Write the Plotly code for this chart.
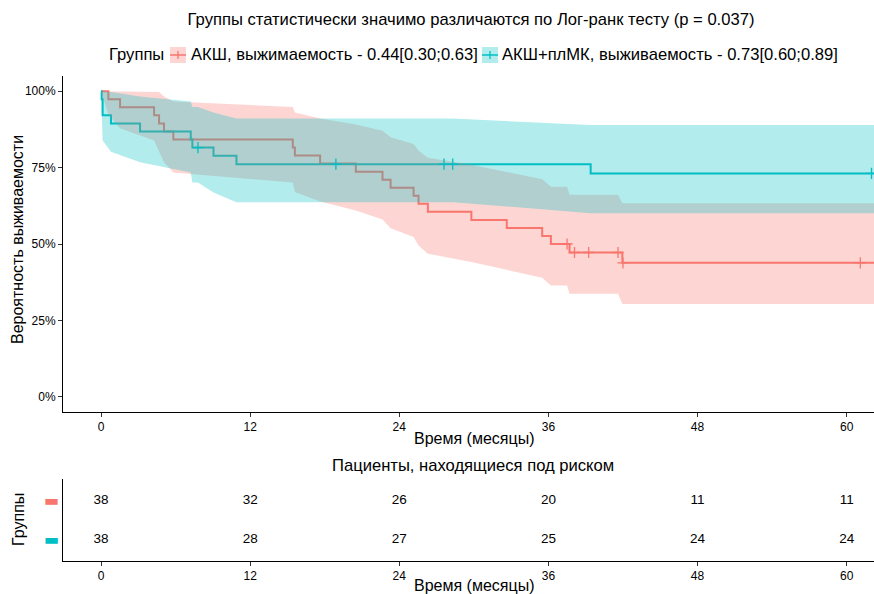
import plotly.graph_objects as go

# ---------------- data ----------------
group_names = ["АКШ, выжимаемость - 0.44[0.30;0.63]", "АКШ+плМК, выживаемость - 0.73[0.60;0.89]"]
legend_title = "Группы"
colors = ["#F8766D", "#00BFC4"]
fills = ["rgba(248,118,109,0.3)", "rgba(0,191,196,0.3)"]

# group 1 (АКШ)
t1 = [0, 0.59, 1.53, 4.27, 4.67, 5.07, 5.82, 15.43, 15.6, 17.63, 20.5, 22.65, 23.3, 25.15, 25.55,
      26.3, 29.8, 32.65, 35.5, 36.2, 37.5, 37.7, 38.1, 39.24, 41.6, 41.95, 42.0, 61.1, 62.6]
s1 = [1, .9737, .9474, .9211, .8947, .8684, .8421, .8158, .7895, .7632, .7368, .7105, .6842, .6579, .6316,
      .6053, .5789, .5526, .5263, .5, .5, .4722, .4722, .4722, .4722, .4385, .4385, .4385, .4385]
u1 = [1, 1, 1, 1, .9978, .9828, .9664, .9489, .9303, .9111, .8910, .8704, .8492, .8274, .8052,
      .7825, .7593, .7356, .7116, .6872, .6872, .6615, .6615, .6615, .6615, .6330, .6330, .6330, .6330]
l1 = [1, .924, .879, .839, .8023, .7673, .7338, .7014, .6700, .6393, .6093, .5800, .5513, .5231, .4954,
      .4683, .4414, .4151, .3893, .3638, .3638, .3371, .3371, .3371, .3371, .3038, .3038, .3038, .3038]
c1 = [0, 0, 0, 0, 0, 0, 0, 0, 0, 0, 0, 0, 0, 0, 0,
      0, 0, 0, 0, 0, 1, 0, 1, 1, 1, 0, 1, 1, 0]

# group 2 (АКШ+плМК)
t2 = [0, 0.05, 0.13, 0.8, 3.14, 7.22, 7.35, 7.8, 9.05, 10.9, 18.9, 27.6, 28.3, 39.4, 62.0, 62.6]
s2 = [1, .9737, .9211, .8947, .8684, .8421, .8158, .8158, .7886, .7614, .7614, .7614, .7614, .7310, .7310, .7310]
u2 = [1, 1, 1, .9978, .9828, .9664, .9489, .9489, .9302, .9105, .9105, .9105, .9105, .8892, .8892, .8892]
l2 = [1, .924, .8392, .8023, .7673, .7338, .7014, .7014, .6686, .6368, .6368, .6368, .6368, .6010, .6010, .6010]
c2 = [0, 0, 0, 0, 0, 0, 0, 1, 0, 0, 1, 1, 1, 0, 1, 0]

risk_times = [0, 12, 24, 36, 48, 60]
risk1 = [38, 32, 26, 20, 11, 11]
risk2 = [38, 28, 27, 25, 24, 24]

y_ticks = [0, 0.25, 0.5, 0.75, 1.0]
y_ticklabels = ["0%", "25%", "50%", "75%", "100%"]
x_ticks = [0, 12, 24, 36, 48, 60]

# ---------------- layout helpers (page pixels; body margin removed in post_script) ----------------
W, H = 874, 594
def px(x):
    return x / W
def py(y):
    return 1 - y / H

FONT = "Liberation Sans, Arial, sans-serif"
TFS = 16.6
fig = go.Figure()

groups = [(t1, s1, u1, l1, c1), (t2, s2, u2, l2, c2)]

# step lines first
for i, (t, s, u, l, c) in enumerate(groups):
    fig.add_trace(go.Scatter(x=t, y=s, mode="lines", line=dict(color=colors[i], width=2, shape="hv"),
                             showlegend=False, hoverinfo="skip", xaxis="x", yaxis="y"))
# ribbons
for i, (t, s, u, l, c) in enumerate(groups):
    fig.add_trace(go.Scatter(x=list(t) + list(t[::-1]), y=list(u) + list(l[::-1]), mode="lines",
                             fill="toself", fillcolor=fills[i], line=dict(width=0),
                             showlegend=False, hoverinfo="skip", xaxis="x", yaxis="y"))
# censor marks
for i, (t, s, u, l, c) in enumerate(groups):
    xs = [tt for tt, cc in zip(t, c) if cc]
    ys = [ss for ss, cc in zip(s, c) if cc]
    fig.add_trace(go.Scatter(x=xs, y=ys, mode="markers",
                             marker=dict(symbol="cross-thin", size=8, line=dict(color=colors[i], width=1.3)),
                             showlegend=False, hoverinfo="skip", xaxis="x", yaxis="y"))

# risk table numbers
for i, vals in enumerate([risk1, risk2]):
    fig.add_trace(go.Scatter(x=risk_times, y=[2 - i] * len(risk_times), mode="text",
                             text=[str(v) for v in vals], textfont=dict(size=13.5, color="black", family=FONT),
                             showlegend=False, hoverinfo="skip", xaxis="x2", yaxis="y2"))

xdom = [px(63), 1.0]
xr = [-3.06, 62.2]
axis_common = dict(showline=True, linecolor="black", linewidth=1, ticks="outside", ticklen=4,
                   tickcolor="#333333", showgrid=False, zeroline=False,
                   tickfont=dict(size=12, color="black", family=FONT))

annotations = [
    dict(text="Пациенты, находящиеся под риском", x=px(473), y=py(465)),
    dict(text="Время (месяцы)", x=px(474), y=py(438), size=16),
    dict(text="Время (месяцы)", x=px(474), y=py(585), size=16),
    dict(text="Вероятность выживаемости", x=px(18), y=py(240), size=16, angle=-90),
    dict(text="Группы", x=px(18), y=py(520), size=16, angle=-90),
    dict(text=legend_title, x=px(107), y=py(55), anchor="left"),
    dict(text=group_names[0], x=px(189), y=py(55), anchor="left"),
    dict(text=group_names[1], x=px(500), y=py(55), anchor="left"),
]
ann = []
for a in annotations:
    ann.append(dict(text=a["text"], xref="paper", yref="paper", x=a["x"], y=a["y"],
                    xanchor=a.get("anchor", "center"), yanchor="middle", showarrow=False,
                    textangle=a.get("angle", 0),
                    font=dict(size=a.get("size", TFS), family=FONT, color="black")))

# legend keys (box + cross) drawn as shapes
shapes = []
for i, (x0, x1) in enumerate([(170, 186), (482, 498)]):
    yc = 55
    shapes.append(dict(type="rect", xref="paper", yref="paper", x0=px(x0), x1=px(x1),
                       y0=py(yc + 8), y1=py(yc - 8), fillcolor=fills[i], line=dict(width=0)))
    shapes.append(dict(type="line", xref="paper", yref="paper", x0=px(x0), x1=px(x1),
                       y0=py(yc), y1=py(yc), line=dict(color=colors[i], width=1.5)))
    xm = (x0 + x1) / 2
    shapes.append(dict(type="line", xref="paper", yref="paper", x0=px(xm), x1=px(xm),
                       y0=py(yc - 4), y1=py(yc + 4), line=dict(color=colors[i], width=1.3)))

fig.update_layout(
    width=W, height=H,
    margin=dict(l=0, r=0, t=0, b=0),
    paper_bgcolor="white", plot_bgcolor="white",
    font=dict(family=FONT, color="black"),
    showlegend=False,
    title=dict(text="Группы статистически значимо различаются по Лог-ранк тесту (p = 0.037)",
               x=px(471), xanchor="center", y=py(19), yanchor="middle",
               font=dict(size=TFS, family=FONT, color="black")),
    xaxis=dict(domain=xdom, range=xr, tickvals=x_ticks, anchor="y", **axis_common),
    yaxis=dict(domain=[py(412), py(76)], range=[-0.05, 1.05], tickvals=y_ticks,
               ticktext=y_ticklabels, anchor="x", **axis_common),
    xaxis2=dict(domain=xdom, range=xr, tickvals=x_ticks, anchor="y2", **axis_common),
    yaxis2=dict(domain=[py(561), py(479)], range=[0.45, 2.55], tickvals=[2, 1],
                ticktext=[f"<span style='color:{colors[0]}'>▬</span>", f"<span style='color:{colors[1]}'>▬</span>"],
                anchor="x2", showline=True, linecolor="black", linewidth=1, ticks="", showgrid=False,
                zeroline=False, tickfont=dict(size=16, family="DejaVu Sans")),
    annotations=ann,
    shapes=shapes,
)
for ax in ["xaxis", "yaxis", "xaxis2", "yaxis2"]:
    fig.layout[ax].automargin = False

fig.write_html("out.html", config={"displayModeBar": False},
               post_script="document.body.style.margin='0';document.body.style.overflow='hidden';")
